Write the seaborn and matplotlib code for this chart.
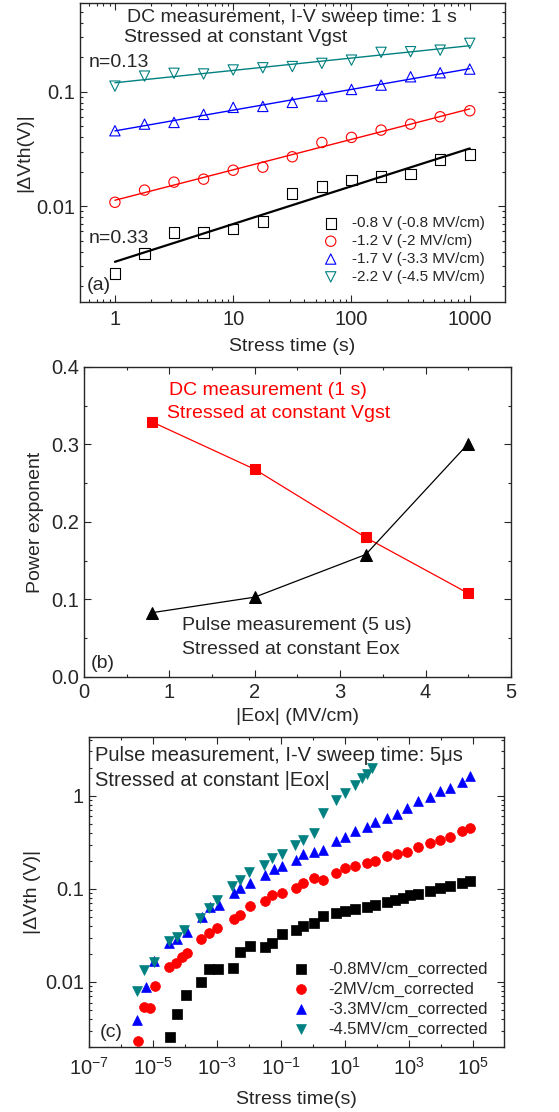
import numpy as np
import matplotlib
matplotlib.use("Agg")
import matplotlib.pyplot as plt
import matplotlib.ticker as mticker
import seaborn as sns

# ---- panel (a): DC measurement ----
t_dc = [1, 1.78, 3.16, 5.62, 10, 17.8, 31.6, 56.2, 100, 178, 316, 562, 1000]
dv_08 = [0.00258, 0.00385, 0.00589, 0.00589, 0.00629, 0.00734, 0.0129, 0.0148,
         0.0169, 0.0181, 0.0192, 0.0256, 0.0283]
dv_12 = [0.0108, 0.0138, 0.0162, 0.0172, 0.0206, 0.0219, 0.0270, 0.0360,
         0.0399, 0.0462, 0.0521, 0.0604, 0.0682]
dv_17 = [0.0456, 0.0521, 0.0539, 0.0634, 0.0730, 0.0744, 0.0807, 0.0916,
         0.1047, 0.1143, 0.1352, 0.1466, 0.1578]
dv_22 = [0.112, 0.137, 0.145, 0.143, 0.155, 0.162, 0.166, 0.177, 0.189,
         0.221, 0.224, 0.231, 0.265]
dc_labels = ["-0.8 V (-0.8 MV/cm)", "-1.2 V (-2 MV/cm)",
             "-1.7 V (-3.3 MV/cm)", "-2.2 V (-4.5 MV/cm)"]

# ---- panel (b): power exponent ----
eox = [0.8, 2.0, 3.3, 4.5]
n_dc = [0.329, 0.268, 0.180, 0.108]
n_pulse = [0.083, 0.103, 0.158, 0.301]

# ---- panel (c): pulse measurement (log10 values) ----
lt_08 = [-4.47, -4.25, -3.96, -3.50, -3.26, -2.97, -2.50, -2.29, -1.98, -1.51,
         -1.28, -0.97, -0.52, -0.30, 0.02, 0.31, 0.71, 1.00, 1.31, 1.68, 1.94,
         2.30, 2.56, 2.82, 3.03, 3.29, 3.65, 3.97, 4.28, 4.64, 4.90]
lv_08 = [-2.59, -2.34, -2.14, -2.00, -1.86, -1.86, -1.85, -1.68, -1.61, -1.62,
         -1.58, -1.48, -1.44, -1.40, -1.37, -1.29, -1.26, -1.24, -1.22, -1.20,
         -1.17, -1.14, -1.12, -1.10, -1.07, -1.05, -1.02, -0.995, -0.97, -0.94,
         -0.91]
lt_2 = [-5.47, -5.28, -5.10, -4.95, -4.49, -4.28, -4.09, -3.93, -3.50, -3.26,
        -3.00, -2.48, -2.27, -1.96, -1.49, -1.28, -0.97, -0.52, -0.30, 0.02,
        0.31, 0.71, 1.00, 1.31, 1.68, 1.94, 2.30, 2.61, 2.93, 3.29, 3.65, 3.97,
        4.28, 4.64, 4.90]
lv_2 = [-2.63, -2.27, -2.28, -2.04, -1.84, -1.80, -1.73, -1.69, -1.54, -1.47,
        -1.42, -1.32, -1.28, -1.18, -1.13, -1.07, -1.04, -0.99, -0.94, -0.88,
        -0.90, -0.83, -0.78, -0.75, -0.72, -0.70, -0.65, -0.63, -0.60, -0.55,
        -0.51, -0.47, -0.44, -0.38, -0.35]
lt_33 = [-5.49, -5.23, -4.97, -4.50, -4.25, -3.93, -3.47, -3.21, -2.95, -2.48,
         -2.27, -1.96, -1.49, -1.23, -0.97, -0.52, -0.30, 0.02, 0.31, 0.71,
         1.00, 1.31, 1.68, 1.94, 2.30, 2.61, 2.93, 3.29, 3.65, 3.97, 4.28, 4.64,
         4.90]
lv_33 = [-2.41, -2.05, -1.78, -1.58, -1.54, -1.46, -1.30, -1.20, -1.17, -1.04,
         -0.99, -0.94, -0.85, -0.79, -0.75, -0.69, -0.63, -0.60, -0.58, -0.49,
         -0.44, -0.38, -0.33, -0.28, -0.24, -0.19, -0.13, -0.06, -0.01, 0.05,
         0.08, 0.15, 0.21]
lt_45 = [-5.49, -5.28, -4.97, -4.50, -4.25, -4.04, -3.52, -3.26, -3.00, -2.53,
         -2.29, -2.01, -1.54, -1.28, -0.97, -0.55, -0.30, 0.02, 0.31, 0.71,
         1.00, 1.31, 1.52, 1.68, 1.83]
lv_45 = [-2.10, -1.87, -1.79, -1.56, -1.52, -1.44, -1.31, -1.21, -1.12, -0.97,
         -0.90, -0.82, -0.74, -0.67, -0.62, -0.53, -0.47, -0.40, -0.18, -0.04,
         0.03, 0.12, 0.19, 0.24, 0.30]
pulse_labels = ["-0.8MV/cm_corrected", "-2MV/cm_corrected",
                "-3.3MV/cm_corrected", "-4.5MV/cm_corrected"]

colors = ["black", "red", "blue", "#008080"]

sns.set_style("ticks")
plt.rcParams["font.family"] = ["Liberation Sans", "DejaVu Sans"]
plt.rcParams["mathtext.fontset"] = "custom"
plt.rcParams["mathtext.rm"] = "Liberation Sans"
plt.rcParams["mathtext.it"] = "Liberation Sans:italic"
plt.rcParams["mathtext.default"] = "regular"
plt.rcParams["axes.linewidth"] = 1.0

FS = 14  # main text size
TFS = 14.5  # tick labels


def style_ticks(ax, pad=5):
    ax.tick_params(which="both", direction="in", top=True, right=True,
                   labelsize=TFS, width=0.8)
    ax.tick_params(which="major", length=5)
    ax.tick_params(which="minor", length=2.5)
    ax.tick_params(axis="x", which="major", pad=pad)


fig = plt.figure(figsize=(5.59, 11.12), dpi=100)

# ---------------- (a) ----------------
ax = fig.add_axes([0.143, 0.7284, 0.760, 0.2689])
markers_a = ["s", "o", "^", "v"]
for yv, c, m, lab in zip([dv_08, dv_12, dv_17, dv_22], colors, markers_a, dc_labels):
    sns.scatterplot(x=t_dc, y=yv, ax=ax, marker=m, s=55, color=c,
                    facecolor="none", edgecolor=c, linewidth=0.8, label=lab,
                    zorder=3)
    # power-law fit in log-log space
    k, b = np.polyfit(np.log10(t_dc), np.log10(yv), 1)
    tt = np.array([t_dc[0], t_dc[-1]])
    sns.lineplot(x=tt, y=10 ** (b + k * np.log10(tt)), ax=ax, color=c,
                 lw=1.6 if c == "black" else 1.0, zorder=2)
ax.set_xscale("log")
ax.set_yscale("log")
ax.set_xlim(0.506, 1977)
ax.set_ylim(0.00145, 0.597)
ax.set_xticks([1, 10, 100, 1000])
ax.set_xticklabels(["1", "10", "100", "1000"])
ax.set_yticks([0.01, 0.1])
ax.set_yticklabels(["0.01", "0.1"])
style_ticks(ax, pad=6)
ax.set_xlabel("Stress time (s)", fontsize=FS, labelpad=6)
ax.set_ylabel("|\u0394Vth(V)|", fontsize=FS, labelpad=2)
ax.text(0.5, 0.953, "DC measurement, I-V sweep time: 1 s", transform=ax.transAxes,
        ha="center", va="center", fontsize=FS)
ax.text(0.104, 0.886, "Stressed at constant Vgst", transform=ax.transAxes,
        ha="left", va="center", fontsize=FS)
ax.text(0.02, 0.80, "n=0.13", transform=ax.transAxes, ha="left", va="center",
        fontsize=FS)
ax.text(0.02, 0.212, "n=0.33", transform=ax.transAxes, ha="left", va="center",
        fontsize=FS)
ax.text(0.015, 0.055, "(a)", transform=ax.transAxes, ha="left", va="center",
        fontsize=FS)
ax.legend(loc="lower right", bbox_to_anchor=(0.975, 0.03), frameon=False,
          fontsize=11, handletextpad=0.4, labelspacing=0.25, borderaxespad=0.2)

# ---------------- (b) ----------------
ax = fig.add_axes([0.150, 0.3912, 0.764, 0.2788])
sns.lineplot(x=eox, y=n_dc, ax=ax, color="red", lw=0.9, marker="s",
             markersize=7, markeredgecolor="red")
sns.lineplot(x=eox, y=n_pulse, ax=ax, color="black", lw=0.9, marker="^",
             markersize=9, markeredgecolor="black")
ax.set_xlim(0, 5)
ax.set_ylim(0, 0.4)
ax.xaxis.set_major_locator(mticker.MultipleLocator(1))
ax.xaxis.set_minor_locator(mticker.MultipleLocator(0.5))
ax.yaxis.set_major_locator(mticker.MultipleLocator(0.1))
ax.yaxis.set_minor_locator(mticker.MultipleLocator(0.05))
ax.yaxis.set_major_formatter(mticker.FormatStrFormatter("%.1f"))
style_ticks(ax, pad=4)
ax.set_xlabel("|Eox| (MV/cm)", fontsize=FS, labelpad=5)
ax.set_ylabel("Power exponent", fontsize=FS, labelpad=5)
ax.text(0.2, 0.925, "DC measurement (1 s)", transform=ax.transAxes,
        color="red", ha="left", va="center", fontsize=FS)
ax.text(0.195, 0.85, "Stressed at constant Vgst", transform=ax.transAxes,
        color="red", ha="left", va="center", fontsize=FS)
ax.text(0.23, 0.165, "Pulse measurement (5 us)", transform=ax.transAxes,
        ha="left", va="center", fontsize=FS)
ax.text(0.23, 0.09, "Stressed at constant Eox", transform=ax.transAxes,
        ha="left", va="center", fontsize=FS)
ax.text(0.015, 0.045, "(b)", transform=ax.transAxes, ha="left", va="center",
        fontsize=FS)

# ---------------- (c) ----------------
ax = fig.add_axes([0.159, 0.0585, 0.742, 0.2788])
markers_c = ["s", "o", "^", "v"]
for lt, lv, c, m, lab in zip([lt_08, lt_2, lt_33, lt_45], [lv_08, lv_2, lv_33, lv_45],
                             colors, markers_c, pulse_labels):
    sns.scatterplot(x=10 ** np.array(lt), y=10 ** np.array(lv), ax=ax,
                    marker=m, s=50, color=c, edgecolor=c, linewidth=0.5,
                    label=lab, zorder=3)
ax.set_xscale("log")
ax.set_yscale("log")
ax.set_xlim(1e-7, 9e5)
ax.set_ylim(0.002, 4.3)
ax.set_xticks([10.0 ** e for e in range(-7, 6, 2)])
ax.xaxis.set_major_formatter(mticker.LogFormatterMathtext())
ax.xaxis.set_minor_locator(mticker.LogLocator(base=10, subs="all", numticks=40))
ax.xaxis.set_minor_formatter(mticker.NullFormatter())
ax.set_yticks([0.01, 0.1, 1])
ax.set_yticklabels(["0.01", "0.1", "1"])
ax.yaxis.set_minor_locator(mticker.LogLocator(base=10, subs=np.arange(2, 10), numticks=20))
ax.yaxis.set_minor_formatter(mticker.NullFormatter())
style_ticks(ax, pad=7)
ax.set_xlabel("Stress time(s)", fontsize=FS, labelpad=9)
ax.set_ylabel("|\u0394Vth (V)|", fontsize=FS, labelpad=3)
ax.text(0.015, 0.939, "Pulse measurement, I-V sweep time: 5\u03bcs",
        transform=ax.transAxes, ha="left", va="center", fontsize=14.5)
ax.text(0.015, 0.861, "Stressed at constant |Eox|", transform=ax.transAxes,
        ha="left", va="center", fontsize=14.5)
ax.text(0.027, 0.048, "(c)", transform=ax.transAxes, ha="left", va="center",
        fontsize=FS)
ax.legend(loc="lower right", bbox_to_anchor=(0.985, 0.0), frameon=False,
          fontsize=12, handletextpad=0.6, labelspacing=0.3, borderaxespad=0.2)

fig.savefig("out.png", dpi=100)
